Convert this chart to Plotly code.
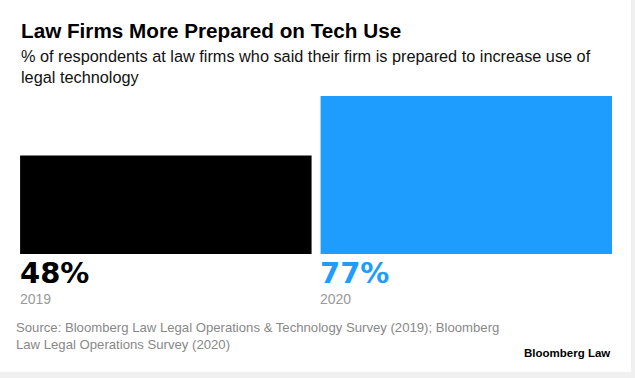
import plotly.graph_objects as go

# ---- data ----
years = ["2019", "2020"]
values = [48, 77]
bar_colors = ["#000000", "#1E9DFF"]
label_colors = ["#000000", "#1E9DFF"]

title_text = "<b>Law Firms More Prepared on Tech Use</b>"
subtitle_text = "% of respondents at law firms who said their firm is prepared to increase use of<br>legal technology"
source_text = "Source: Bloomberg Law Legal Operations & Technology Survey (2019); Bloomberg<br>Law Legal Operations Survey (2020)"
brand_text = "<b>Bloomberg Law</b>"

W, H = 635, 378
L, R, T, B = 20, 612, 96, 254  # plot area in pixels

def px(x):
    return (x - L) / (R - L)

def py(y):
    return (B - y) / (B - T)

FONT = "Liberation Sans, Arial, Helvetica, sans-serif"
BIG = "DejaVu Sans, Liberation Sans, Arial, sans-serif"

fig = go.Figure()
fig.add_trace(go.Bar(
    x=years, y=values, width=0.97,
    marker=dict(color=bar_colors, line=dict(width=0)),
    hoverinfo="skip",
))

annotations = []
# title / subtitle
annotations.append(dict(text=title_text, x=px(19), y=py(17), xref="paper", yref="paper",
                        xanchor="left", yanchor="top", showarrow=False, align="left",
                        font=dict(family=FONT, size=20.7, color="#000000")))
annotations.append(dict(text=subtitle_text, x=px(19), y=py(45), xref="paper", yref="paper",
                        xanchor="left", yanchor="top", showarrow=False, align="left",
                        font=dict(family=FONT, size=16.3, color="#111111")))
# value + year labels below bars
for i, (yr, v, c) in enumerate(zip(years, values, label_colors)):
    annotations.append(dict(text=f"<b>{v}%</b>", x=i, y=0, xref="x", yref="paper",
                            xanchor="left", yanchor="top", xshift=-148, yshift=0,
                            showarrow=False, font=dict(family=BIG, size=29, color=c)))
    annotations.append(dict(text=yr, x=i, y=0, xref="x", yref="paper",
                            xanchor="left", yanchor="top", xshift=-148, yshift=-35,
                            showarrow=False, font=dict(family=FONT, size=14, color="#999999")))
# source
annotations.append(dict(text=source_text, x=px(14), y=py(318), xref="paper", yref="paper",
                        xanchor="left", yanchor="top", showarrow=False, align="left",
                        font=dict(family=FONT, size=13.15, color="#888888")))
# brand
annotations.append(dict(text=brand_text, x=px(612), y=py(361), xref="paper", yref="paper",
                        xanchor="right", yanchor="bottom", showarrow=False, align="right",
                        font=dict(family=FONT, size=11.5, color="#000000")))

fig.update_layout(
    width=W, height=H,
    margin=dict(l=L, r=W - R, t=T, b=H - B, pad=0),
    paper_bgcolor="#F0F0F0",
    plot_bgcolor="rgba(0,0,0,0)",
    showlegend=False,
    xaxis=dict(type="category", range=[-0.4853, 1.4847], showticklabels=False, showgrid=False,
               zeroline=False, showline=False, fixedrange=True),
    yaxis=dict(range=[0, 77], showticklabels=False, showgrid=False,
               zeroline=False, showline=False, fixedrange=True),
    annotations=annotations,
    shapes=[dict(type="rect", xref="paper", yref="paper", layer="below",
                 x0=px(0), x1=px(631), y0=py(372), y1=py(0),
                 fillcolor="#FFFFFF", line=dict(width=0))],
)

fig.write_html("out.html", config={"displayModeBar": False},
               post_script="document.body.style.margin='0px';document.body.style.padding='0px';")
